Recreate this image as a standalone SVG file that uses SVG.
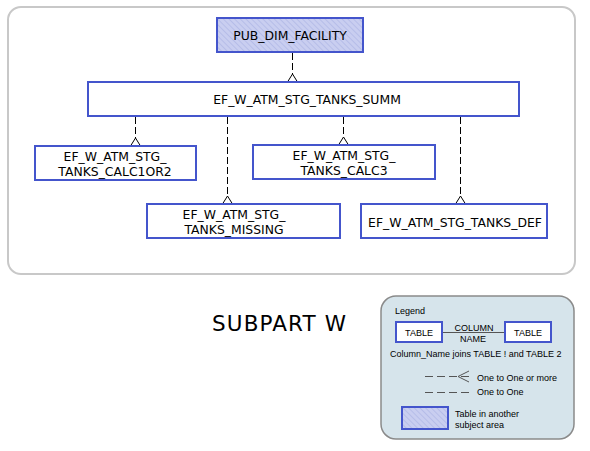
<svg xmlns="http://www.w3.org/2000/svg" width="590" height="451" viewBox="0 0 590 451">
<defs>
<pattern id="hatch" patternUnits="userSpaceOnUse" width="4" height="4" patternTransform="rotate(-45)">
<rect width="4" height="4" fill="#c9cef0"/>
<line x1="0" y1="0" x2="0" y2="4" stroke="#aab2e4" stroke-width="1.2"/>
</pattern>
<style>
.node{fill:#ffffff;stroke:#4455cc;stroke-width:2}
.ext{fill:url(#hatch);stroke:#4455cc;stroke-width:2}
.t{font-family:"DejaVu Sans",Verdana,sans-serif;font-size:12.4px;fill:#000;text-anchor:middle}
.conn{stroke:#000;stroke-width:1;stroke-dasharray:7 3;fill:none}
.foot{stroke:#000;stroke-width:1;fill:none}
.lg{font-family:"Liberation Sans",Arial,sans-serif;font-size:9px;fill:#000}
.lgl{stroke:#555;stroke-width:1;fill:none}
</style>
</defs>
<rect width="590" height="451" fill="#ffffff"/>
<rect x="8" y="7" width="567" height="267" rx="13" fill="#ffffff" stroke="#c8c8c8" stroke-width="2"/>

<g id="connectors">
<line class="conn" x1="292.5" y1="53" x2="292.5" y2="74"/>
<path class="foot" d="M287.5 82 L292.5 74 L297.5 82"/>
<line class="conn" x1="135.5" y1="117" x2="135.5" y2="138"/>
<path class="foot" d="M130.5 146 L135.5 138 L140.5 146"/>
<line class="conn" x1="227.5" y1="117" x2="227.5" y2="196"/>
<path class="foot" d="M222.5 204 L227.5 196 L232.5 204"/>
<line class="conn" x1="343.5" y1="117" x2="343.5" y2="137"/>
<path class="foot" d="M338.5 145 L343.5 137 L348.5 145"/>
<line class="conn" x1="460.5" y1="117" x2="460.5" y2="196"/>
<path class="foot" d="M455.5 204 L460.5 196 L465.5 204"/>
</g>

<g id="PUB_DIM_FACILITY">
<rect class="ext" x="217" y="18" width="146" height="34"/>
<text class="t" x="290" y="40">PUB_DIM_FACILITY</text>
</g>
<g id="EF_W_ATM_STG_TANKS_SUMM">
<rect class="node" x="88" y="82" width="431" height="34"/>
<text class="t" x="307" y="104">EF_W_ATM_STG_TANKS_SUMM</text>
</g>
<g id="EF_W_ATM_STG_TANKS_CALC1OR2">
<rect class="node" x="35" y="146" width="161" height="34"/>
<text class="t" x="115" y="160.5">EF_W_ATM_STG_</text>
<text class="t" x="115" y="175.5">TANKS_CALC1OR2</text>
</g>
<g id="EF_W_ATM_STG_TANKS_CALC3">
<rect class="node" x="253" y="145" width="182" height="34"/>
<text class="t" x="344" y="159.5">EF_W_ATM_STG_</text>
<text class="t" x="344" y="174.5">TANKS_CALC3</text>
</g>
<g id="EF_W_ATM_STG_TANKS_MISSING">
<rect class="node" x="147" y="204" width="193" height="34"/>
<text class="t" x="234" y="218.5">EF_W_ATM_STG_</text>
<text class="t" x="234" y="234">TANKS_MISSING</text>
</g>
<g id="EF_W_ATM_STG_TANKS_DEF">
<rect class="node" x="361" y="204" width="186" height="34"/>
<text class="t" x="455" y="226.5">EF_W_ATM_STG_TANKS_DEF</text>
</g>

<text x="212" y="331" font-family="DejaVu Sans,Verdana,sans-serif" font-size="21.5" textLength="134" lengthAdjust="spacing" fill="#000">SUBPART W</text>

<g id="legend">
<rect x="381" y="296" width="193" height="143" rx="15" fill="#d6e4eb" stroke="#8a8a8a" stroke-width="1.5"/>
<text class="lg" x="395" y="314" font-size="8.5">Legend</text>
<rect class="node" x="396" y="322" width="46" height="20"/>
<text class="lg" x="419" y="336" font-size="10.5" text-anchor="middle">TABLE</text>
<rect class="node" x="505" y="322" width="46" height="20"/>
<text class="lg" x="528" y="336" font-size="10.5" text-anchor="middle">TABLE</text>
<line class="lgl" x1="443" y1="332.5" x2="504" y2="332.5"/>
<text class="lg" x="474" y="331" font-size="8.5" text-anchor="middle">COLUMN</text>
<text class="lg" x="473" y="342" font-size="8.5" text-anchor="middle">NAME</text>
<text class="lg" x="390" y="357">Column_Name joins TABLE ! and TABLE 2</text>
<line class="lgl" x1="425" y1="376.5" x2="469" y2="376.5" stroke-dasharray="8 4"/>
<path class="lgl" d="M469 371 L458 376.5 L469 382"/>
<text class="lg" x="477" y="380.5" font-size="9.3">One to One or more</text>
<line class="lgl" x1="425" y1="392.5" x2="469" y2="392.5" stroke-dasharray="8 4"/>
<text class="lg" x="477" y="395" font-size="9.3">One to One</text>
<rect class="ext" x="402" y="407" width="46" height="22"/>
<text class="lg" x="455" y="417">Table in another</text>
<text class="lg" x="455" y="428">subject area</text>
</g>
</svg>
